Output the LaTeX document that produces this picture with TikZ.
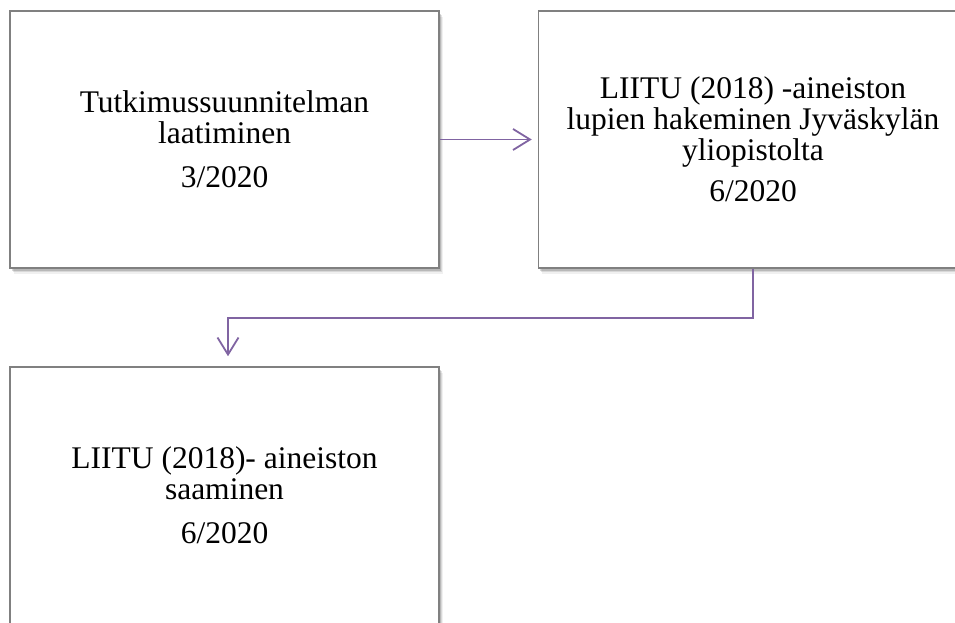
\documentclass[tikz,border=0pt]{standalone}
\usepackage{fontspec}
\setmainfont{Liberation Serif}
\usetikzlibrary{arrows.meta,shadows,calc}
\definecolor{conncol}{RGB}{128,100,162}
\definecolor{boxline}{RGB}{128,128,128}
\begin{document}
\begin{tikzpicture}[x=1pt,y=1pt,
  stepbox/.style={draw=boxline, line width=1.5pt, fill=white,
    minimum width=429pt, minimum height=257pt, inner sep=0pt, align=center,
    font=\fontsize{31.5}{31}\selectfont,
    drop shadow={shadow xshift=3.5pt, shadow yshift=-6pt, opacity=0.06, fill=black},
    drop shadow={shadow xshift=2.5pt, shadow yshift=-4.5pt, opacity=0.10, fill=black},
    drop shadow={shadow xshift=1.5pt, shadow yshift=-3pt, opacity=0.15, fill=black}},
  conn/.style={draw=conncol, line width=1.8pt, -{Straight Barb[length=17pt,width=21pt]}}
]
\useasboundingbox (0,0) rectangle (955,623);
\clip (0,0) rectangle (955,623);
\node[stepbox] (b1) at (224.5,483.5) {Tutkimussuunnitelman\\ laatiminen\\[13pt] 3/2020};
\node[stepbox] (b2) at (753,483.5) {LIITU (2018) -aineiston\\ lupien hakeminen Jyväskylän\\ yliopistolta\\[10pt] 6/2020};
\node[stepbox] (b3) at (224.5,127.5) {LIITU (2018)- aineiston\\ saaminen\\[13pt] 6/2020};
\draw[conn, shorten >=6pt] (b1.east) -- (b2.west);
\coordinate (bend) at (753,305);
\draw[conn, shorten >=10pt] (b2.south) -- (bend) -| ([xshift=3.5pt]b3.north);
\end{tikzpicture}
\end{document}
